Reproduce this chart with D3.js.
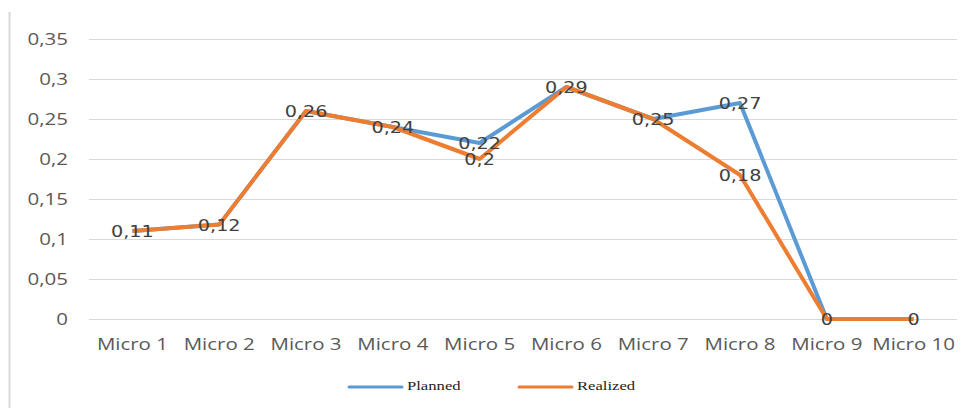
<!DOCTYPE html>
<html><head><meta charset="utf-8">
<script src="https://cdn.jsdelivr.net/npm/d3@7"></script>
<style>body{margin:0;background:#fff}svg{display:block}</style>
</head><body>
<svg id="c" width="970" height="408"></svg>
<script>
const categories = ["Micro 1","Micro 2","Micro 3","Micro 4","Micro 5","Micro 6","Micro 7","Micro 8","Micro 9","Micro 10"];
const planned = [0.11,0.118,0.26,0.24,0.22,0.29,0.25,0.27,0,0];
const realized = [0.11,0.118,0.26,0.24,0.2,0.29,0.25,0.18,0,0];
const plannedLabels = [null,null,null,null,"0,22",null,null,"0,27",null,null];
const realizedLabels = ["0,11","0,12","0,26","0,24","0,2","0,29","0,25","0,18","0","0"];
const yTicks = [0,0.05,0.1,0.15,0.2,0.25,0.3,0.35];
const yTickLabels = ["0","0,05","0,1","0,15","0,2","0,25","0,3","0,35"];
const seriesNames = ["Planned","Realized"];
const colors = ["#5B9BD5","#ED7D31"];

const svg = d3.select("#c");
const SX = 1.28;
const x = d3.scaleBand().domain(categories).range([89,957]).padding(0);
const y = d3.scaleLinear().domain([0,0.35]).range([319,39]);
const cx = d => x(d) + x.bandwidth()/2;

// left border
svg.append("line").attr("x1",9.5).attr("x2",9.5).attr("y1",12).attr("y2",408)
  .attr("stroke","#d9d9d9").attr("stroke-width",2);

// gridlines
svg.append("g").selectAll("line").data(yTicks).join("line")
  .attr("x1",89).attr("x2",957).attr("y1",d=>Math.round(y(d))+0.5).attr("y2",d=>Math.round(y(d))+0.5)
  .attr("stroke","#d9d9d9").attr("stroke-width",1);

// y axis labels
const yAxis = d3.axisLeft(y).tickValues(yTicks).tickFormat((d,i)=>yTickLabels[i]).tickSize(0).tickPadding(0);
const gy = svg.append("g").attr("transform","translate(68,0)").call(yAxis);
gy.select(".domain").remove();
gy.selectAll("text").attr("x",0).attr("dy","0.35em")
  .attr("transform",`scale(${SX},1)`)
  .style("font-family","'Open Sans'").style("font-size","16px").attr("fill","#595959");

// x axis labels
const xAxis = d3.axisBottom(x).tickSize(0).tickPadding(0);
const gx = svg.append("g").attr("transform","translate(0,344)").call(xAxis);
gx.select(".domain").remove();
gx.selectAll("text").attr("y",0).attr("dy","0.35em")
  .attr("transform",`scale(${SX},1)`)
  .style("font-family","'Open Sans'").style("font-size","16px").attr("fill","#595959");

// lines
const line = d3.line().x((d,i)=>cx(categories[i])).y(d=>y(d));
[planned, realized].forEach((s,k)=>{
  svg.append("path").datum(s).attr("d",line).attr("fill","none")
    .attr("stroke",colors[k]).attr("stroke-width",4).attr("stroke-linejoin","round");
});

// data labels
function addLabels(vals, labels){
  const g = svg.append("g");
  vals.forEach((v,i)=>{
    if(labels[i]==null) return;
    g.append("g").attr("transform",`translate(${cx(categories[i])},${y(v)+1}) scale(${SX},1)`)
      .append("text").attr("text-anchor","middle").attr("dy","0.35em")
      .style("font-family","'DejaVu Sans'").style("font-size","15px").attr("fill","#404040")
      .text(labels[i]);
  });
}
addLabels(planned, plannedLabels);
addLabels(realized, realizedLabels);

// legend
const legX = [349,519];
seriesNames.forEach((n,k)=>{
  svg.append("line").attr("x1",legX[k]).attr("x2",legX[k]+53).attr("y1",387).attr("y2",387)
    .attr("stroke",colors[k]).attr("stroke-width",3).attr("stroke-linecap","round");
  svg.append("g").attr("transform",`translate(${legX[k]+58},385) scale(${SX},1)`)
    .append("text").attr("dy","0.35em")
    .style("font-family","'Liberation Serif'").style("font-size","13px").attr("fill","#222")
    .text(n);
});
</script>
</body></html>
